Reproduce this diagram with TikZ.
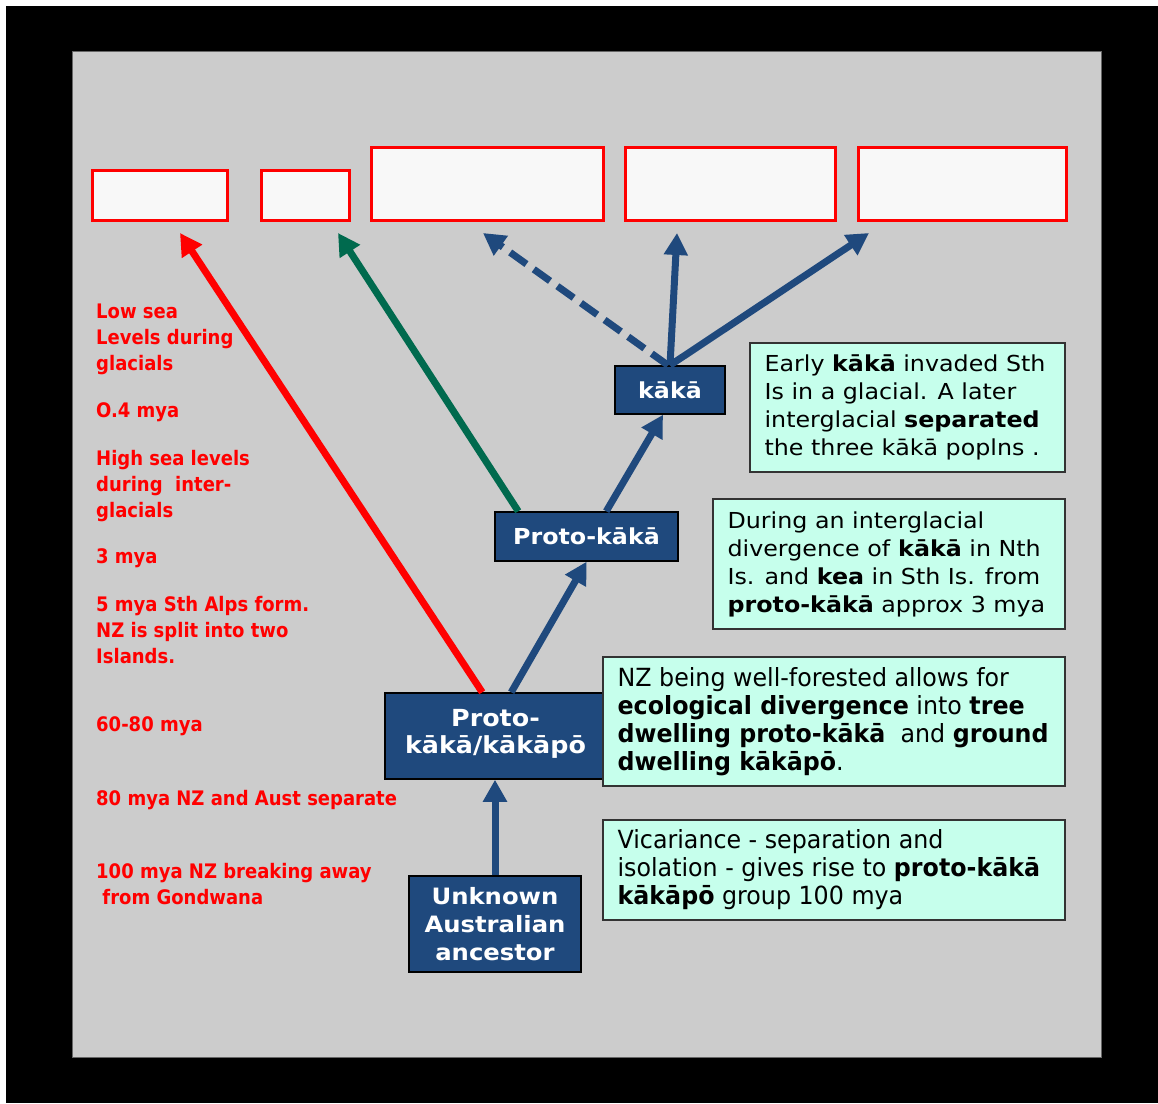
\documentclass[tikz,border=0pt]{standalone}
\usepackage{fontspec}
\setmainfont{DejaVu Sans}
\newfontfamily\fA{DejaVu Sans}[FakeStretch=1.08]
\newfontfamily\fC{DejaVu Sans}[FakeStretch=0.95]
\newfontfamily\fR{DejaVu Sans}[FakeStretch=0.9]
\usetikzlibrary{arrows.meta}
\definecolor{dblue}{HTML}{1F497D}
\definecolor{bggray}{HTML}{CCCCCC}
\definecolor{notefill}{HTML}{C6FFEC}
\definecolor{boxfill}{HTML}{F8F8F8}
\definecolor{dgreen}{HTML}{006A4E}
\tikzset{
  target/.style={draw=red, line width=3pt, fill=boxfill, inner sep=0pt},
  dnode/.style={draw=black, line width=1.5pt, fill=dblue, text=white, font=\fA\bfseries\fontsize{22pt}{26pt}\selectfont, align=center, inner sep=0pt},
  note/.style={draw=black!80, line width=1.2pt, fill=notefill, inner sep=0pt},
  notetext/.style={anchor=west, inner xsep=15pt, inner ysep=0pt, align=left, text=black},
  redlab/.style={anchor=north west, inner sep=0pt, align=left, text=red, font=\fR\bfseries\fontsize{20pt}{26pt}\selectfont},
  arr/.style={line width=7pt, -{Triangle[length=22pt, width=23pt]}},
}
\begin{document}
\begin{tikzpicture}[x=1pt,y=-1pt]
\useasboundingbox (0,0) rectangle (1158,1103);
\fill[white] (0,0) rectangle (1158,1103);
\fill[black] (6,6) rectangle (1158,1103);
\fill[bggray, draw=black!60, line width=1pt] (72,51) rectangle (1101,1057);

% target boxes
\node[target, minimum width=135pt, minimum height=50pt] (t1) at (159.5,195) {};
\node[target, minimum width=88pt, minimum height=50pt] (t2) at (305,195) {};
\node[target, minimum width=232pt, minimum height=73pt] (t3) at (487,183.5) {};
\node[target, minimum width=210pt, minimum height=73pt] (t4) at (730,183.5) {};
\node[target, minimum width=208pt, minimum height=73pt] (t5) at (962,183.5) {};

% tips
\coordinate (tip1) at (180,233);
\coordinate (tip2) at (338,233);
\coordinate (tip3) at (483,233);
\coordinate (tip4) at (677,233);
\coordinate (tip5) at (869,233);

% dark nodes
\node[dnode, minimum width=110pt, minimum height=48pt] (kaka) at (670,390) {kākā};
\node[dnode, minimum width=183pt, minimum height=49pt] (pk) at (586.5,536.5) {Proto-kākā};
\node[dnode, minimum width=221pt, minimum height=86pt, font=\fA\bfseries\fontsize{23.5pt}{27pt}\selectfont] (pkk) at (495.5,736) {Proto-\\kākā/kākāpō\rule[-9pt]{0pt}{1pt}};
\node[dnode, minimum width=172pt, minimum height=96pt, font=\fA\bfseries\fontsize{22.5pt}{28pt}\selectfont] (unk) at (495,924) {Unknown\\Australian\\ancestor};

% notes
\node[note, minimum width=315pt, minimum height=129pt] (nA) at (907.5,407.5) {};
\node[notetext, font=\fA\fontsize{22pt}{28pt}\selectfont] (tA) at (nA.west) {Early \textbf{kākā} invaded Sth\\Is in a glacial. A later\\interglacial \textbf{separated}\\the three kākā poplns .};
\node[note, minimum width=352pt, minimum height=130pt] (nB) at (889,564) {};
\node[notetext, font=\fA\fontsize{22pt}{28pt}\selectfont] (tB) at (nB.west) {During an interglacial\\divergence of \textbf{kākā} in Nth\\Is. and \textbf{kea} in Sth Is. from\\\textbf{proto-kākā} approx 3 mya};
\node[note, minimum width=462pt, minimum height=129pt] (nC) at (834,721.5) {};
\node[notetext, font=\fC\fontsize{25pt}{28pt}\selectfont] (tC) at (nC.west) {NZ being well-forested allows for\\\textbf{ecological divergence} into \textbf{tree}\\\textbf{dwelling proto-kākā}\ \ and \textbf{ground}\\\textbf{dwelling kākāpō}.};
\node[note, minimum width=462pt, minimum height=100pt] (nD) at (834,870) {};
\node[notetext, font=\fC\fontsize{25pt}{28pt}\selectfont] (tD) at (nD.west) {Vicariance - separation and\\isolation - gives rise to \textbf{proto-kākā}\\\textbf{kākāpō} group 100 mya};

% red labels
\node[redlab] (l1) at (96,304) {Low sea\\Levels during\\glacials};
\node[redlab] (l2) at (96,402) {O.4 mya};
\node[redlab] (l3) at (96,450) {High sea levels\\during\ \ inter-\\glacials};
\node[redlab] (l4) at (96,548) {3 mya};
\node[redlab] (l5) at (96,596) {5 mya Sth Alps form.\\NZ is split into two\\Islands.};
\node[redlab] (l6) at (96,716) {60-80 mya};
\node[redlab] (l7) at (96,790) {80 mya NZ and Aust separate};
\node[redlab] (l8) at (96,863) {100 mya NZ breaking away\\\ from Gondwana};

% arrows
\draw[arr, dblue] (unk.north) -- (unk.north |- pkk.south);
\draw[arr, dblue] ([xshift=127pt]pkk.north west) -- (pk.south);
\draw[arr, dblue] ([xshift=112pt]pk.north west) -- ([xshift=-7pt]kaka.south);
\draw[arr, red] ([xshift=98pt]pkk.north west) -- (tip1);
\draw[arr, dgreen] ([xshift=24pt]pk.north west) -- (tip2);
\draw[arr, dblue, dash pattern=on 20pt off 9pt] ([xshift=-2pt]kaka.north) -- (tip3);
\draw[arr, dblue] (kaka.north) -- (tip4);
\draw[arr, dblue] (kaka.north) -- (tip5);
\end{tikzpicture}
\end{document}
